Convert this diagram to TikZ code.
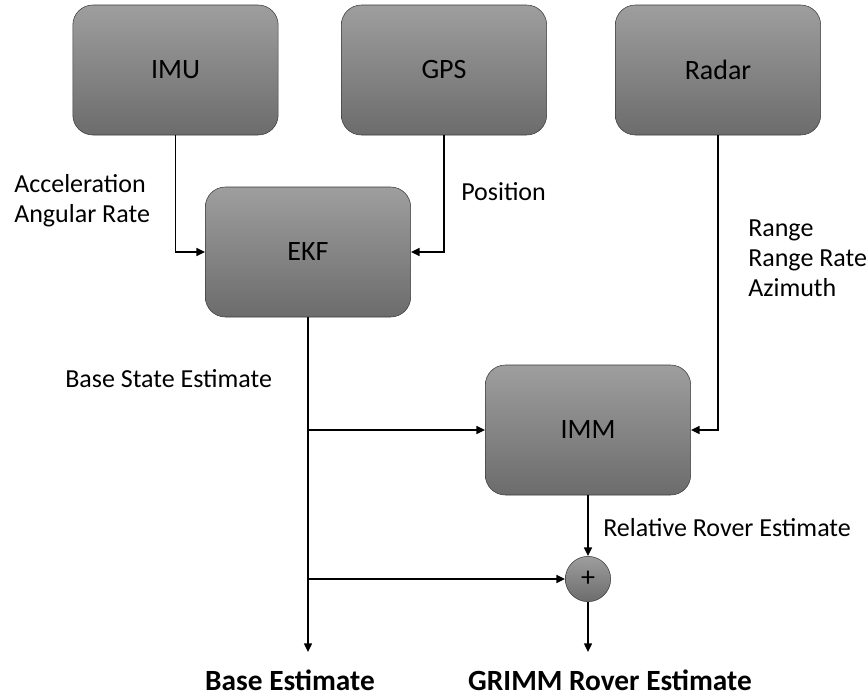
\documentclass[tikz,border=0pt]{standalone}
\usepackage{fontspec}
\setmainfont{Carlito}
\usetikzlibrary{arrows.meta}
\definecolor{boxtop}{HTML}{9E9E9E}
\definecolor{boxbot}{HTML}{6C6C6C}
\definecolor{boxline}{HTML}{3A3A3A}
\tikzstyle{blk} = [rectangle, rounded corners=15pt, minimum width=154pt, minimum height=97.5pt, draw=boxline, top color=boxtop, bottom color=boxbot, font=\fontsize{21}{25}\selectfont]
\tikzstyle{sum} = [circle, minimum size=34pt, inner sep=0pt, draw=boxline, top color=boxtop, bottom color=boxbot, font=\fontsize{21}{25}\selectfont]
\tikzstyle{lbl} = [align=left, anchor=west, inner sep=0pt, font=\fontsize{19.5}{22.5}\selectfont]
\tikzstyle{outlbl} = [inner sep=0pt, font=\bfseries\fontsize{22}{26}\selectfont]
\tikzstyle{arrow} = [line width=1pt,-{Triangle[length=6.5pt,width=6pt]}]

\begin{document}
\begin{tikzpicture}[x=0.75pt,y=-0.75pt]
\useasboundingbox (0,0) rectangle (868,697);

% sensors
\node[blk] (imu) at (175.5,70) {IMU};
\node[blk] (gps) at (444,70) {GPS};
\node[blk] (radar) at (718,70) {Radar};

% filters
\node[blk] (ekf) at (308,252) {EKF};
\node[blk] (imm) at (588,430) {IMM};
\node[sum] (plus) at (588,579) {+};

\coordinate (base) at (308,652);
\coordinate (rover) at (588,652);

% connections
\draw[arrow] (imu.south) |- (ekf.west);
\draw[arrow] (gps.south) |- (ekf.east);
\draw[arrow] (radar.south) |- (imm.east);
\draw[arrow] (ekf.south) -- (base);
\draw[arrow] (ekf.south |- imm.west) -- (imm.west);
\draw[arrow] (ekf.south |- plus.west) -- (plus.west);
\draw[arrow] (imm.south) -- (plus.north);
\draw[arrow] (plus.south) -- (rover);

% labels
\node[lbl] (accl) at (14,201) {Acceleration\\Angular Rate};
\node[lbl] (posl) at (461,192) {Position};
\node[lbl] (radl) at (748,258) {Range\\Range Rate\\Azimuth};
\node[lbl] (basel) at (65,379) {Base State Estimate};
\node[lbl] (rell) at (603,528) {Relative Rover Estimate};
\node[outlbl] (baseout) at (290,680) {Base Estimate};
\node[outlbl] (roverout) at (610,680) {GRIMM Rover Estimate};
\end{tikzpicture}
\end{document}
